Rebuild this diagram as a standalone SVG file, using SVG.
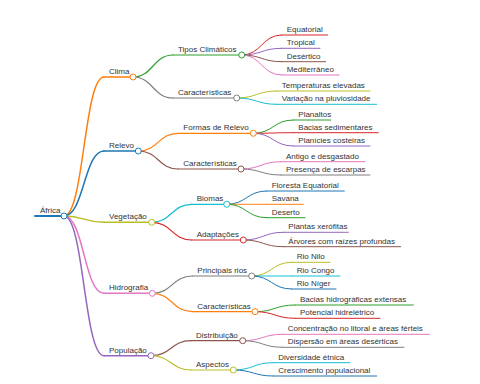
<svg xmlns="http://www.w3.org/2000/svg" width="480" height="384" viewBox="0 0 480 384">
<style>
text{font-family:"Liberation Sans",Arial,sans-serif;font-size:8px;fill:#333}
path,line{fill:none;stroke-linecap:round}
circle{fill:#fff;stroke-width:1}
.d0{stroke-width:2}.d1{stroke-width:1.5}.d2{stroke-width:1.2}.d3{stroke-width:1}
.blue{stroke:#1f77b4}.orange{stroke:#ff7f0e}.green{stroke:#2ca02c}.red{stroke:#d62728}.purple{stroke:#9467bd}.brown{stroke:#8c564b}.pink{stroke:#e377c2}.gray{stroke:#7f7f7f}.olive{stroke:#bcbd22}.cyan{stroke:#17becf}
</style>
<rect width="480" height="384" fill="#fff"/>
<g id="connectors">
<path class="d1 orange" d="M64 216C84 216 84 77 104 77"/>
<path class="d1 blue" d="M64 216C84 216 84 151 104 151"/>
<path class="d1 olive" d="M64 216C84 216 84 222.3 104 222.3"/>
<path class="d1 pink" d="M64 216C84 216 84 293.3 104 293.3"/>
<path class="d1 purple" d="M64 216C84 216 84 355.7 104 355.7"/>
<path class="d2 green" d="M133 77C153 77 153 55 173 55"/>
<path class="d2 gray" d="M133 77C153 77 153 98 173 98"/>
<path class="d2 orange" d="M138.3 151C158.3 151 158.3 133.3 178.3 133.3"/>
<path class="d2 brown" d="M138.3 151C158.3 151 158.3 169 178.3 169"/>
<path class="d2 cyan" d="M151.7 222.3C171.7 222.3 171.7 204.3 191.7 204.3"/>
<path class="d2 red" d="M151.7 222.3C171.7 222.3 171.7 240 191.7 240"/>
<path class="d2 gray" d="M152.3 293.3C172.3 293.3 172.3 276 192.3 276"/>
<path class="d2 orange" d="M152.3 293.3C172.3 293.3 172.3 311.7 192.3 311.7"/>
<path class="d2 brown" d="M151 355.7C171 355.7 171 340.7 191 340.7"/>
<path class="d2 olive" d="M151 355.7C171 355.7 171 370 191 370"/>
<path class="d3 red" d="M241.7 55C261.7 55 261.7 35 281.7 35"/>
<path class="d3 purple" d="M241.7 55C261.7 55 261.7 48.3 281.7 48.3"/>
<path class="d3 brown" d="M241.7 55C261.7 55 261.7 61.7 281.7 61.7"/>
<path class="d3 pink" d="M241.7 55C261.7 55 261.7 75 281.7 75"/>
<path class="d3 olive" d="M236.7 98C256.7 98 256.7 91 276.7 91"/>
<path class="d3 cyan" d="M236.7 98C256.7 98 256.7 104.3 276.7 104.3"/>
<path class="d3 green" d="M253.3 133.3C273.3 133.3 273.3 120 293.3 120"/>
<path class="d3 red" d="M253.3 133.3C273.3 133.3 273.3 132.7 293.3 132.7"/>
<path class="d3 purple" d="M253.3 133.3C273.3 133.3 273.3 146 293.3 146"/>
<path class="d3 pink" d="M241 169C261 169 261 161.7 281 161.7"/>
<path class="d3 gray" d="M241 169C261 169 261 175 281 175"/>
<path class="d3 blue" d="M226.7 204.3C246.7 204.3 246.7 191 266.7 191"/>
<path class="d3 orange" d="M226.7 204.3C246.7 204.3 246.7 204.3 266.7 204.3"/>
<path class="d3 green" d="M226.7 204.3C246.7 204.3 246.7 217.7 266.7 217.7"/>
<path class="d3 purple" d="M243.3 240C263.3 240 263.3 232.3 283.3 232.3"/>
<path class="d3 brown" d="M243.3 240C263.3 240 263.3 246.7 283.3 246.7"/>
<path class="d3 olive" d="M251.7 276C271.7 276 271.7 262.3 291.7 262.3"/>
<path class="d3 cyan" d="M251.7 276C271.7 276 271.7 276 291.7 276"/>
<path class="d3 blue" d="M251.7 276C271.7 276 271.7 289 291.7 289"/>
<path class="d3 green" d="M255 311.7C275 311.7 275 305 295 305"/>
<path class="d3 red" d="M255 311.7C275 311.7 275 318.3 295 318.3"/>
<path class="d3 pink" d="M242.7 340.7C262.7 340.7 262.7 334.3 282.7 334.3"/>
<path class="d3 gray" d="M242.7 340.7C262.7 340.7 262.7 347.3 282.7 347.3"/>
<path class="d3 cyan" d="M233.3 370C253.3 370 253.3 362.7 273.3 362.7"/>
<path class="d3 blue" d="M233.3 370C253.3 370 253.3 376 273.3 376"/>
</g>
<g id="n-africa"><line class="d0 blue" x1="35" y1="216" x2="64" y2="216"/><circle class="blue" cx="64" cy="216" r="3"/><text x="40" y="213">África</text></g>
<g id="n-clima"><line class="d1 orange" x1="104" y1="77" x2="133" y2="77"/><circle class="orange" cx="133" cy="77" r="3"/><text x="109" y="74">Clima</text></g>
<g id="n-relevo"><line class="d1 blue" x1="104" y1="151" x2="138.3" y2="151"/><circle class="blue" cx="138.3" cy="151" r="3"/><text x="109" y="148">Relevo</text></g>
<g id="n-vegetacao"><line class="d1 olive" x1="104" y1="222.3" x2="151.7" y2="222.3"/><circle class="olive" cx="151.7" cy="222.3" r="3"/><text x="109" y="219.3">Vegetação</text></g>
<g id="n-hidrografia"><line class="d1 pink" x1="104" y1="293.3" x2="152.3" y2="293.3"/><circle class="pink" cx="152.3" cy="293.3" r="3"/><text x="109" y="290.3">Hidrografia</text></g>
<g id="n-populacao"><line class="d1 purple" x1="104" y1="355.7" x2="151" y2="355.7"/><circle class="purple" cx="151" cy="355.7" r="3"/><text x="109" y="352.7">População</text></g>
<g id="n-tipos"><line class="d2 green" x1="173" y1="55" x2="241.7" y2="55"/><circle class="green" cx="241.7" cy="55" r="3"/><text x="178" y="52">Tipos Climáticos</text></g>
<g id="n-caract-clima"><line class="d2 gray" x1="173" y1="98" x2="236.7" y2="98"/><circle class="gray" cx="236.7" cy="98" r="3"/><text x="178" y="95">Características</text></g>
<g id="n-formas"><line class="d2 orange" x1="178.3" y1="133.3" x2="253.3" y2="133.3"/><circle class="orange" cx="253.3" cy="133.3" r="3"/><text x="183.3" y="130.3">Formas de Relevo</text></g>
<g id="n-caract-relevo"><line class="d2 brown" x1="178.3" y1="169" x2="241" y2="169"/><circle class="brown" cx="241" cy="169" r="3"/><text x="183.3" y="166">Características</text></g>
<g id="n-biomas"><line class="d2 cyan" x1="191.7" y1="204.3" x2="226.7" y2="204.3"/><circle class="cyan" cx="226.7" cy="204.3" r="3"/><text x="196.7" y="201.3">Biomas</text></g>
<g id="n-adaptacoes"><line class="d2 red" x1="191.7" y1="240" x2="243.3" y2="240"/><circle class="red" cx="243.3" cy="240" r="3"/><text x="196.7" y="237">Adaptações</text></g>
<g id="n-rios"><line class="d2 gray" x1="192.3" y1="276" x2="251.7" y2="276"/><circle class="gray" cx="251.7" cy="276" r="3"/><text x="197.3" y="273">Principais rios</text></g>
<g id="n-caract-hidro"><line class="d2 orange" x1="192.3" y1="311.7" x2="255" y2="311.7"/><circle class="orange" cx="255" cy="311.7" r="3"/><text x="197.3" y="308.7">Características</text></g>
<g id="n-distribuicao"><line class="d2 brown" x1="191" y1="340.7" x2="242.7" y2="340.7"/><circle class="brown" cx="242.7" cy="340.7" r="3"/><text x="196" y="337.7">Distribuição</text></g>
<g id="n-aspectos"><line class="d2 olive" x1="191" y1="370" x2="233.3" y2="370"/><circle class="olive" cx="233.3" cy="370" r="3"/><text x="196" y="367">Aspectos</text></g>
<g id="n-equatorial"><line class="d3 red" x1="281.7" y1="35" x2="327.7" y2="35"/><text x="286.7" y="32">Equatorial</text></g>
<g id="n-tropical"><line class="d3 purple" x1="281.7" y1="48.3" x2="320" y2="48.3"/><text x="286.7" y="45.3">Tropical</text></g>
<g id="n-desertico"><line class="d3 brown" x1="281.7" y1="61.7" x2="325.7" y2="61.7"/><text x="286.7" y="58.7">Desértico</text></g>
<g id="n-mediterraneo"><line class="d3 pink" x1="281.7" y1="75" x2="339" y2="75"/><text x="286.7" y="72">Mediterrâneo</text></g>
<g id="n-temperaturas"><line class="d3 olive" x1="276.7" y1="91" x2="370" y2="91"/><text x="281.7" y="88">Temperaturas elevadas</text></g>
<g id="n-variacao"><line class="d3 cyan" x1="276.7" y1="104.3" x2="376.7" y2="104.3"/><text x="281.7" y="101.3">Variação na pluviosidade</text></g>
<g id="n-planaltos"><line class="d3 green" x1="293.3" y1="120" x2="330.7" y2="120"/><text x="298.3" y="117">Planaltos</text></g>
<g id="n-bacias-sed"><line class="d3 red" x1="293.3" y1="132.7" x2="378.3" y2="132.7"/><text x="298.3" y="129.7">Bacias sedimentares</text></g>
<g id="n-planicies"><line class="d3 purple" x1="293.3" y1="146" x2="370" y2="146"/><text x="298.3" y="143">Planícies costeiras</text></g>
<g id="n-antigo"><line class="d3 pink" x1="281" y1="161.7" x2="365" y2="161.7"/><text x="286" y="158.7">Antigo e desgastado</text></g>
<g id="n-escarpas"><line class="d3 gray" x1="281" y1="175" x2="370" y2="175"/><text x="286" y="172">Presença de escarpas</text></g>
<g id="n-floresta"><line class="d3 blue" x1="266.7" y1="191" x2="344.3" y2="191"/><text x="271.7" y="188">Floresta Equatorial</text></g>
<g id="n-savana"><line class="d3 orange" x1="266.7" y1="204.3" x2="303.3" y2="204.3"/><text x="271.7" y="201.3">Savana</text></g>
<g id="n-deserto"><line class="d3 green" x1="266.7" y1="217.7" x2="305" y2="217.7"/><text x="271.7" y="214.7">Deserto</text></g>
<g id="n-plantas"><line class="d3 purple" x1="283.3" y1="232.3" x2="348.3" y2="232.3"/><text x="288.3" y="229.3">Plantas xerófitas</text></g>
<g id="n-arvores"><line class="d3 brown" x1="283.3" y1="246.7" x2="400.7" y2="246.7"/><text x="288.3" y="243.7">Árvores com raízes profundas</text></g>
<g id="n-nilo"><line class="d3 olive" x1="291.7" y1="262.3" x2="330" y2="262.3"/><text x="296.7" y="259.3">Rio Nilo</text></g>
<g id="n-congo"><line class="d3 cyan" x1="291.7" y1="276" x2="340" y2="276"/><text x="296.7" y="273">Rio Congo</text></g>
<g id="n-niger"><line class="d3 blue" x1="291.7" y1="289" x2="336" y2="289"/><text x="296.7" y="286">Rio Níger</text></g>
<g id="n-bacias-hid"><line class="d3 green" x1="295" y1="305" x2="413.3" y2="305"/><text x="300" y="302">Bacias hidrográficas extensas</text></g>
<g id="n-potencial"><line class="d3 red" x1="295" y1="318.3" x2="380" y2="318.3"/><text x="300" y="315.3">Potencial hidrelétrico</text></g>
<g id="n-concentracao"><line class="d3 pink" x1="282.7" y1="334.3" x2="429.3" y2="334.3"/><text x="287.7" y="331.3">Concentração no litoral e áreas férteis</text></g>
<g id="n-dispersao"><line class="d3 gray" x1="282.7" y1="347.3" x2="404" y2="347.3"/><text x="287.7" y="344.3">Dispersão em áreas desérticas</text></g>
<g id="n-diversidade"><line class="d3 cyan" x1="273.3" y1="362.7" x2="350" y2="362.7"/><text x="278.3" y="359.7">Diversidade étnica</text></g>
<g id="n-crescimento"><line class="d3 blue" x1="273.3" y1="376" x2="376.7" y2="376"/><text x="278.3" y="373">Crescimento populacional</text></g>
</svg>
